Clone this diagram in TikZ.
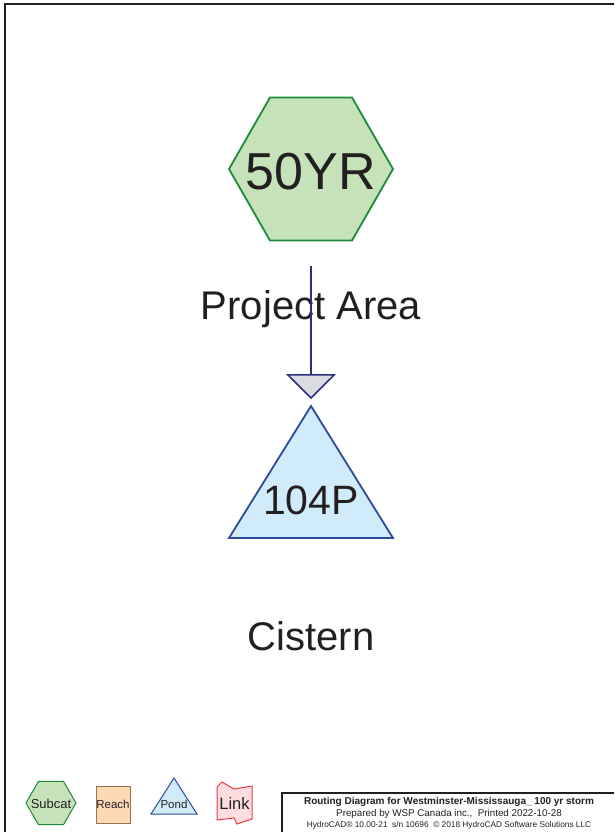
\documentclass[tikz,border=0pt]{standalone}
\usepackage{fontspec}
\setmainfont{Liberation Sans}
\usetikzlibrary{arrows.meta}
\definecolor{txt}{HTML}{231F20}
\definecolor{hexfill}{HTML}{C6E2B8}
\definecolor{hexline}{HTML}{1E8A3C}
\definecolor{pondfill}{HTML}{D0EBF9}
\definecolor{pondline}{HTML}{2E4A9E}
\definecolor{flowline}{HTML}{2B2E83}
\definecolor{tipfill}{HTML}{DCDDE0}
\definecolor{reachfill}{HTML}{FCD9B4}
\definecolor{reachline}{HTML}{A0704A}
\definecolor{linkfill}{HTML}{FDDDE0}
\definecolor{linkline}{HTML}{EE3A43}
\begin{document}
\begin{tikzpicture}[x=1pt,y=-1pt,
  lbl/.style={text=txt,inner sep=0pt,anchor=base},
  bigtxt/.style={lbl,font=\fontsize{40}{48}\selectfont},
  hexshape/.style={fill=hexfill,draw=hexline,line width=1.8pt,line join=miter},
  pondshape/.style={fill=pondfill,draw=pondline,line width=1.8pt,line join=miter},
  flow/.style={draw=flowline,line width=1.8pt,-{Triangle[width=50pt,length=25pt,fill=tipfill,line width=1.5pt]}},
  frameline/.style={draw=txt,line width=2pt},
  legtxt/.style={lbl,font=\fontsize{11.5}{13}\selectfont}]
\useasboundingbox (0,0) rectangle (614,832);
\clip (0,0) rectangle (614,832);
% page frame
\draw[frameline] (5,4) rectangle (640,860);
% title box
\draw[draw=txt,line width=1.6pt] (282,793) rectangle (640,860);
\node[lbl,font=\bfseries\fontsize{10}{11}\selectfont] (t1) at (449,804.5) {Routing Diagram for Westminster-Mississauga\_ 100 yr storm};
\node[lbl,font=\fontsize{9.8}{11}\selectfont] (t2) at (449,816) {Prepared by WSP Canada inc.,\ \ Printed 2022-10-28};
\node[lbl,font=\fontsize{8.3}{9}\selectfont] (t3) at (449,827.5) {HydroCAD\textregistered\ 10.00-21\ \ s/n 10696\ \ \textcopyright\ 2018 HydroCAD Software Solutions LLC};
% subcatchment 50YR
\draw[hexshape] (229,169) -- (270,97.5) -- (352,97.5) -- (393,169) -- (352,240.5) -- (270,240.5) -- cycle;
\node[lbl,font=\fontsize{52}{60}\selectfont] (sub) at (311,189) {50YR};
\node[bigtxt] (subname) at (311,319) {Project Area};
% pond 104P
\draw[pondshape] (311,406) -- (393,538) -- (229,538) -- cycle;
\node[lbl,font=\fontsize{41}{48}\selectfont] (pond) at (311,514) {104P};
\node[bigtxt] (pondname) at (311,650) {Cistern};
% connector
\coordinate (fstart) at (311,266);
\coordinate (ftip) at (311,399);
\draw[flow] (fstart) -- (ftip);
% legend
\draw[hexshape,line width=1pt] (26,803) -- (38.5,781.3) -- (63.5,781.3) -- (76,803) -- (63.5,824.7) -- (38.5,824.7) -- cycle;
\node[legtxt,font=\fontsize{13}{15}\selectfont] (lsub) at (51,808) {Subcat};
\draw[fill=reachfill,draw=reachline,line width=1pt] (96,786) rectangle (130,823);
\node[legtxt] (lreach) at (113,808.5) {Reach};
\draw[pondshape,line width=1pt] (174,778) -- (197,814) -- (151,814) -- cycle;
\node[legtxt] (lpond) at (174,808) {Pond};
\draw[fill=linkfill,draw=linkline,line width=1pt] (217,787) -- (222,782) -- (234,789) -- (252,786) -- (252,819) -- (237,824) -- (234,818) -- (217,820) -- cycle;
\node[lbl,font=\fontsize{16.5}{18}\selectfont] (llink) at (234.5,809) {Link};
\end{tikzpicture}
\end{document}
